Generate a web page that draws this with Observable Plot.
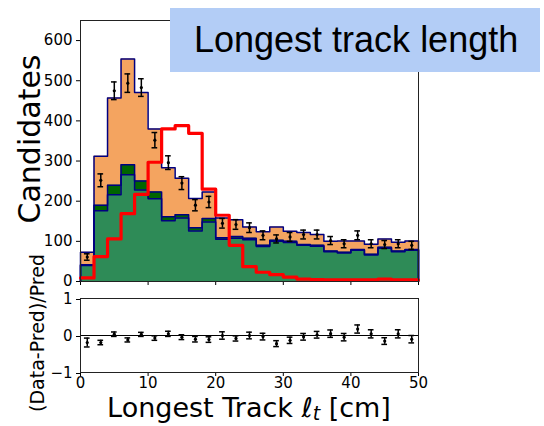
<!DOCTYPE html>
<html>
<head>
<meta charset="utf-8">
<script src="https://cdn.jsdelivr.net/npm/d3@7"></script>
<script src="https://cdn.jsdelivr.net/npm/@observablehq/plot@0.6"></script>
<style>
  body { margin: 0; background: #fff; }
  #fig { position: relative; width: 544px; height: 426px; overflow: hidden; font-family: "DejaVu Sans", sans-serif; }
  #fig svg { position: absolute; left: 0; display: block; overflow: visible; }
  #title {
    position: absolute; left: 170px; top: 8px; width: 370px; height: 64px; z-index: 2;
    background: #b3cdf6; color: #000;
    font-family: "Liberation Sans", Arial, sans-serif; font-size: 36px; line-height: 64px;
    padding-left: 24px; box-sizing: border-box; white-space: nowrap;
  }
</style>
</head>
<body>
<div id="fig"><div id="title">Longest track length</div></div>
<script>
// Histogram bin edges (cm)
const binEdges = [0, 2, 4, 6, 8, 10, 12, 14, 16, 18, 20, 22, 24, 26, 28, 30, 32, 34, 36, 38, 40, 42, 44, 46, 48, 50];
const xTicks = [0, 10, 20, 30, 40, 50];
const yTicks = [0, 100, 200, 300, 400, 500, 600];
const ratioTicks = [-1, 0, 1];

// Predicted components per bin (stacked, bottom to top)
const seaGreen  = [40, 176, 216, 266, 228, 206, 151, 158, 126, 148, 105, 108, 104, 87, 100, 97, 90, 88, 74, 71, 78, 66, 83, 74, 78];
const darkGreen = [2, 14, 24, 25, 22, 17, 10, 8, 8, 9, 4, 4, 4, 3, 3, 3, 2, 2, 2, 2, 2, 2, 2, 2, 2];
const orange    = [31, 122, 217, 263, 221, 157, 122, 91, 73, 66, 49, 42, 28, 34, 33, 25, 30, 27, 24, 28, 21, 25, 21, 22, 21];

// Signal shape (red step line)
const signal = [9, 62, 106, 169, 217, 297, 380, 388, 369, 230, 165, 90, 37, 23, 17, 11, 6, 5, 4, 4, 4, 4, 6, 4, 4];

// Observed candidates and their uncertainties
const dataCounts = [61, 252, 475, 494, 483, 352, 296, 245, 190, 198, 145, 142, 134, 115, 106, 111, 117, 117, 102, 94, 115, 94, 92, 94, 90];
const dataErr    = [8, 16, 22, 23, 22, 19, 17, 16, 14, 14, 12, 12, 12, 11, 10, 11, 11, 11, 10, 10, 11, 10, 10, 10, 10];

// (Data - Pred) / Pred per bin
const ratio    = [-0.19, -0.19, 0.035, -0.12, 0.03, -0.07, 0.045, -0.045, -0.1, -0.11, 0.0, -0.08, 0.0, -0.03, -0.22, -0.13, -0.035, 0.02, 0.05, -0.045, 0.175, 0.045, -0.15, 0.045, -0.1];
const ratioErr = [0.12, 0.06, 0.06, 0.055, 0.055, 0.06, 0.07, 0.065, 0.075, 0.075, 0.1, 0.07, 0.09, 0.09, 0.08, 0.085, 0.09, 0.09, 0.1, 0.1, 0.11, 0.11, 0.09, 0.11, 0.1];

const bins = seaGreen.map((v, i) => {
  const lo = binEdges[i], hi = binEdges[i + 1];
  const dark = v + darkGreen[i];
  return {
    x1: lo, x2: hi, xc: (lo + hi) / 2,
    sea: v, dark, total: dark + orange[i],
    sig: signal[i],
    n: dataCounts[i], err: dataErr[i],
    r: ratio[i], rErr: ratioErr[i]
  };
});

// Step points for one cumulative level: left edge of each bin plus the last right edge
function stepPoints(key) {
  const pts = bins.map(b => ({x: b.x1, y: b[key]}));
  pts.push({x: binEdges[binEdges.length - 1], y: bins[bins.length - 1][key]});
  return pts;
}
// Closed outline: up from the baseline, across the steps, down at the end
function outline(key) {
  const xEnd = binEdges[binEdges.length - 1];
  return [{x: binEdges[0], y: 0}, ...stepPoints(key), {x: xEnd, y: 0}];
}

const capHalf = 0.42; // error-bar cap half-width in cm
const W = 544, ML = 80, MR = 126;
const axisStyle = {fontSize: "15px", fontFamily: "DejaVu Sans, sans-serif", color: "#000", background: "transparent"};
const step = {x: "x", curve: "step-after"};

const main = Plot.plot({
  width: W, height: 290,
  marginLeft: ML, marginRight: MR, marginTop: 20, marginBottom: 9,
  style: axisStyle,
  x: {domain: [0, 50]},
  y: {domain: [0, 650]},
  marks: [
    // stacked fills, painted from the full stack down
    Plot.areaY(stepPoints("total"), {...step, y1: 0, y2: "y", fill: "#f4a460"}),
    Plot.areaY(stepPoints("dark"), {...step, y1: 0, y2: "y", fill: "#006400"}),
    Plot.areaY(stepPoints("sea"), {...step, y1: 0, y2: "y", fill: "#2e8b57"}),
    Plot.line(outline("sea"), {...step, y: "y", stroke: "#000080", strokeWidth: 1.5}),
    Plot.line(outline("dark"), {...step, y: "y", stroke: "#000080", strokeWidth: 1.5}),
    Plot.line(outline("total"), {...step, y: "y", stroke: "#000080", strokeWidth: 1.5}),
    Plot.line(stepPoints("sig"), {...step, y: "y", stroke: "#ff0000", strokeWidth: 3.2}),
    Plot.ruleX(bins, {x: "xc", y1: d => d.n - d.err, y2: d => d.n + d.err, stroke: "#000", strokeWidth: 1.5}),
    Plot.ruleY(bins, {y: d => d.n - d.err, x1: d => d.xc - capHalf, x2: d => d.xc + capHalf, stroke: "#000", strokeWidth: 1.5}),
    Plot.ruleY(bins, {y: d => d.n + d.err, x1: d => d.xc - capHalf, x2: d => d.xc + capHalf, stroke: "#000", strokeWidth: 1.5}),
    Plot.dot(bins, {x: "xc", y: "n", r: 1.6, fill: "#000"}),
    Plot.axisY({ticks: yTicks, tickSize: 4, tickPadding: 4, label: null}),
    Plot.axisX({ticks: xTicks, tickSize: 4, tickFormat: () => "", label: null}),
    Plot.frame({stroke: "#222", strokeWidth: 1})
  ]
});

const lower = Plot.plot({
  width: W, height: 136,
  marginLeft: ML, marginRight: MR, marginTop: 8, marginBottom: 54,
  style: axisStyle,
  x: {domain: [0, 50]},
  y: {domain: [-1, 1]},
  marks: [
    Plot.ruleY([0], {stroke: "#000", strokeWidth: 1.2}),
    Plot.ruleX(bins, {x: "xc", y1: d => d.r - d.rErr, y2: d => d.r + d.rErr, stroke: "#000", strokeWidth: 1.5}),
    Plot.ruleY(bins, {y: d => d.r - d.rErr, x1: d => d.xc - capHalf, x2: d => d.xc + capHalf, stroke: "#000", strokeWidth: 1.5}),
    Plot.ruleY(bins, {y: d => d.r + d.rErr, x1: d => d.xc - capHalf, x2: d => d.xc + capHalf, stroke: "#000", strokeWidth: 1.5}),
    Plot.dot(bins, {x: "xc", y: "r", r: 1.6, fill: "#000"}),
    Plot.axisY({ticks: ratioTicks, tickSize: 4, tickPadding: 4, tickFormat: d3.format("d"), dy: 1, label: null}),
    Plot.axisX({ticks: xTicks, tickSize: 4, tickPadding: 1, label: null}),
    Plot.frame({stroke: "#222", strokeWidth: 1})
  ]
});

const fig = document.getElementById("fig");
main.style.top = "0px";
lower.style.top = "290px";
fig.insertBefore(main, fig.firstChild);
fig.insertBefore(lower, fig.firstChild);

// Axis titles
d3.select(main).append("text")
  .attr("transform", "translate(40,139) rotate(-90)")
  .attr("text-anchor", "middle")
  .attr("font-family", "DejaVu Sans, sans-serif")
  .attr("font-size", 30)
  .attr("fill", "#000")
  .text("Candidates");

d3.select(lower).append("text")
  .attr("transform", "translate(44,43) rotate(-90)")
  .attr("text-anchor", "middle")
  .attr("font-family", "DejaVu Sans, sans-serif")
  .attr("font-size", 19)
  .attr("fill", "#000")
  .text("(Data-Pred)/Pred");

const xl = d3.select(lower).append("text")
  .attr("x", 249).attr("y", 127)
  .attr("text-anchor", "middle")
  .attr("font-family", "DejaVu Sans, sans-serif")
  .attr("font-size", 27)
  .attr("fill", "#000");
xl.append("tspan").text("Longest Track ");
xl.append("tspan").attr("font-style", "italic").text("ℓ");
xl.append("tspan").attr("font-style", "italic").attr("font-size", 19).attr("dy", 3).text("t");
xl.append("tspan").attr("dy", -3).text(" [cm]");
</script>
</body>
</html>
